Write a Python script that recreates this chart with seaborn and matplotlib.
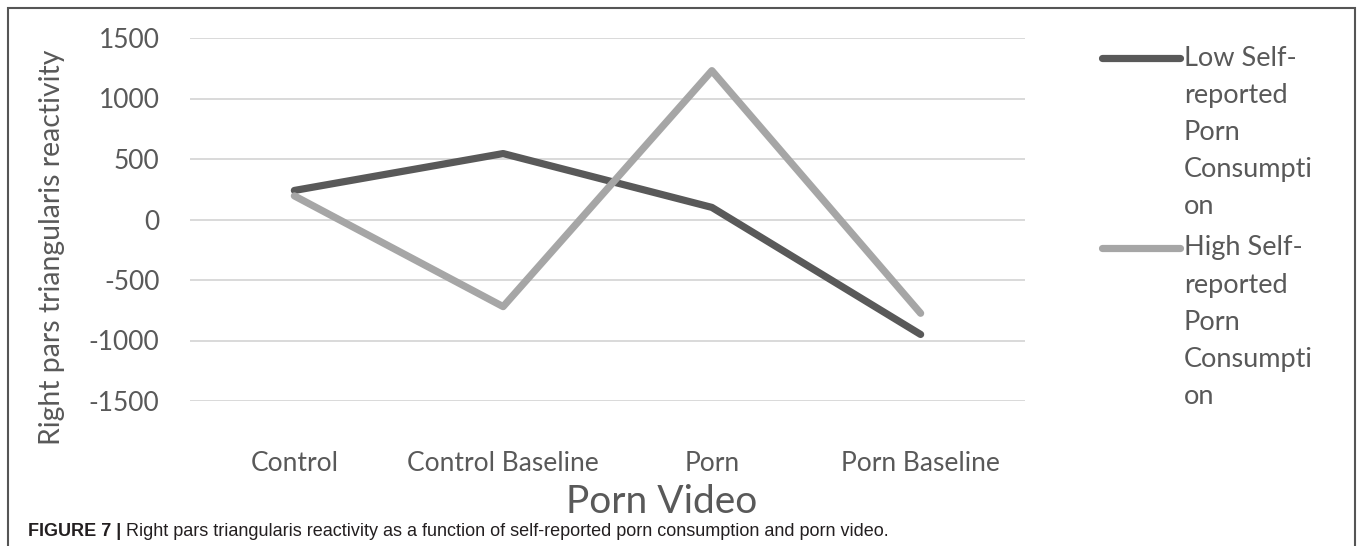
import numpy as np
import pandas as pd
import seaborn as sns
import matplotlib.pyplot as plt
from matplotlib.patches import Rectangle
from matplotlib.lines import Line2D

# ---- data ----
categories = ["Control", "Control Baseline", "Porn", "Porn Baseline"]
low_values = [240, 545, 100, -950]
high_values = [195, -720, 1230, -775]
series_names = ["Low Self-reported Porn Consumption", "High Self-reported Porn Consumption"]
legend_rows = [["Low Self-", "reported", "Porn", "Consumpti", "on"],
               ["High Self-", "reported", "Porn", "Consumpti", "on"]]
y_ticks = [-1500, -1000, -500, 0, 500, 1000, 1500]
y_title = "Right pars triangularis reactivity"
x_title = "Porn Video"
caption_bold = "FIGURE 7 | "
caption_text = "Right pars triangularis reactivity as a function of self-reported porn consumption and porn video."

df = pd.DataFrame({
    "category": categories * 2,
    "value": low_values + high_values,
    "series": [series_names[0]] * len(categories) + [series_names[1]] * len(categories),
})

DARK = "#595959"
LIGHT = "#a6a6a6"
TXT = "#595959"

sns.set_theme(style="white")
plt.rcParams["font.family"] = ["Lato", "DejaVu Sans"]

W, H = 1357, 546
def fx(px):
    return px / W
def fy(py):
    return 1 - py / H

fig = plt.figure(figsize=(W / 100, H / 100), dpi=100)
ax_left, ax_right, ax_top, ax_bot = 190, 1025, 38, 401
ax = fig.add_axes([fx(ax_left), fy(ax_bot), (ax_right - ax_left) / W, (ax_bot - ax_top) / H])

sns.lineplot(data=df, x="category", y="value", hue="series", palette=[DARK, LIGHT],
             linewidth=5.2, sort=False, legend=False, ax=ax)
for ln in ax.lines:
    ln.set_solid_capstyle("round")
    ln.set_solid_joinstyle("round")

ax.set_xlim(-0.5, 3.5)
ax.set_ylim(-1500, 1500)
ax.set_yticks(y_ticks)
ax.set_yticklabels([str(v) for v in y_ticks])
ax.grid(axis="y", color="#d9d9d9", linewidth=1.4)
ax.grid(axis="x", visible=False)
ax.set_axisbelow(True)
for s in ax.spines.values():
    s.set_visible(False)
ax.tick_params(axis="both", length=0, labelsize=19, colors=TXT)
ax.tick_params(axis="x", pad=36)
ax.tick_params(axis="y", pad=22)
ax.set_xlabel("")
ax.set_ylabel("")

fig.text(fx(52), fy(247), y_title, rotation=90, ha="center", va="center", fontsize=20.4, color=TXT)
fig.text(fx(662), fy(502), x_title, ha="center", va="center", fontsize=28, color=TXT)

# legend (Excel style, wrapped text)
legend_y0 = [58, 248]
row_gap = 37
for i, rows in enumerate(legend_rows):
    col = [DARK, LIGHT][i]
    fig.add_artist(Line2D([fx(1102), fx(1180)], [fy(legend_y0[i])] * 2, transform=fig.transFigure,
                          color=col, linewidth=5.2, solid_capstyle="round"))
    for k, r in enumerate(rows):
        fig.text(fx(1184), fy(legend_y0[i] + k * row_gap), r, ha="left", va="center",
                 fontsize=19.5, color=TXT)

# frame
fig.add_artist(Rectangle((fx(8), -0.1), fx(1355) - fx(8), fy(8) + 0.1, transform=fig.transFigure,
                         fill=False, edgecolor="#555555", linewidth=1.5))

# caption
t1 = fig.text(fx(28), fy(531), caption_bold, ha="left", va="center", fontsize=13,
              fontweight="bold", color="#231f20", family=["Liberation Sans", "DejaVu Sans"])
fig.canvas.draw()
bb = t1.get_window_extent(fig.canvas.get_renderer())
fig.text(bb.x1 / W, fy(531), caption_text, ha="left", va="center", fontsize=13,
         color="#231f20", family=["Liberation Sans", "DejaVu Sans"])

fig.savefig("out.png", dpi=100, facecolor="white")
